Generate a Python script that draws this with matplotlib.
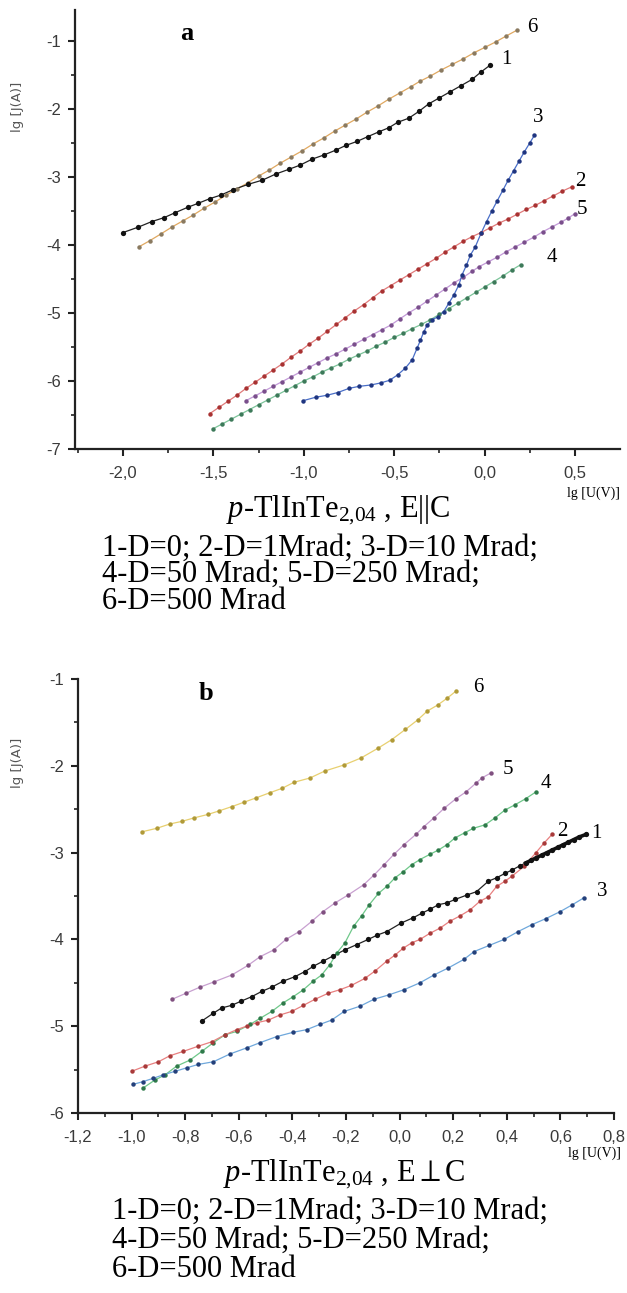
import numpy as np
import matplotlib
matplotlib.use("Agg")
import matplotlib.pyplot as plt
from matplotlib.ticker import MultipleLocator, FuncFormatter

plt.rcParams['mathtext.fontset'] = 'custom'
plt.rcParams['mathtext.rm'] = 'Liberation Serif'
plt.rcParams['mathtext.it'] = 'Liberation Serif:italic'
plt.rcParams['mathtext.default'] = 'regular'

# --- Panel a: E || C, lg J vs lg U ---
a1_x = [-2.0, -1.915, -1.842, -1.772, -1.713, -1.643, -1.584, -1.518, -1.459, -1.391, -1.306,
        -1.229, -1.155, -1.082, -1.021, -0.953, -0.889, -0.824, -0.768, -0.705, -0.646, -0.585,
        -0.530, -0.481, -0.420, -0.364, -0.31, -0.25, -0.19, -0.13, -0.07, -0.02, 0.03]
a1_y = [-3.82, -3.74, -3.66, -3.60, -3.53, -3.45, -3.39, -3.32, -3.27, -3.19, -3.11,
        -3.05, -2.96, -2.89, -2.83, -2.74, -2.68, -2.61, -2.54, -2.48, -2.41, -2.34,
        -2.28, -2.20, -2.14, -2.04, -1.93, -1.84, -1.75, -1.66, -1.57, -1.46, -1.36]

a2_x = [-1.52, -1.47, -1.42, -1.37, -1.32, -1.27, -1.22, -1.17, -1.12, -1.07, -1.02, -0.97,
        -0.92, -0.87, -0.82, -0.77, -0.72, -0.67, -0.62, -0.57, -0.52, -0.47, -0.42, -0.37,
        -0.32, -0.27, -0.22, -0.17, -0.12, -0.07, -0.02, 0.03, 0.08, 0.13, 0.18, 0.23, 0.28,
        0.33, 0.38, 0.43, 0.48]
a2_y = [-6.48, -6.39, -6.30, -6.21, -6.11, -6.02, -5.93, -5.84, -5.75, -5.65, -5.56, -5.46,
        -5.37, -5.27, -5.17, -5.07, -4.97, -4.88, -4.78, -4.68, -4.60, -4.52, -4.44, -4.36,
        -4.28, -4.20, -4.11, -4.03, -3.95, -3.88, -3.82, -3.75, -3.68, -3.62, -3.55, -3.48,
        -3.42, -3.35, -3.28, -3.21, -3.15]

a3_x = [-1.004, -0.935, -0.871, -0.812, -0.751, -0.696, -0.631, -0.576, -0.525, -0.481,
        -0.438, -0.401, -0.374, -0.355, -0.337, -0.318, -0.291, -0.260, -0.226, -0.199,
        -0.171, -0.143, -0.125, -0.101, -0.079, -0.052, -0.02, 0.01, 0.04, 0.07, 0.10,
        0.13, 0.16, 0.19, 0.22, 0.25, 0.275]
a3_y = [-6.29, -6.24, -6.21, -6.17, -6.11, -6.08, -6.06, -6.03, -5.99, -5.91,
        -5.81, -5.69, -5.52, -5.40, -5.28, -5.18, -5.10, -5.06, -4.98, -4.86,
        -4.74, -4.59, -4.44, -4.30, -4.15, -4.03, -3.83, -3.66, -3.50, -3.35, -3.20,
        -3.05, -2.91, -2.77, -2.63, -2.50, -2.39]

a4_x = [-1.50, -1.45, -1.40, -1.35, -1.30, -1.25, -1.20, -1.15, -1.10, -1.05, -1.00,
        -0.95, -0.90, -0.85, -0.80, -0.75, -0.70, -0.65, -0.60, -0.55,
        -0.50, -0.45, -0.40, -0.35, -0.30, -0.25, -0.20, -0.15, -0.10, -0.05,
        0.00, 0.05, 0.10, 0.15, 0.20]
a4_y = [-6.70, -6.63, -6.56, -6.49, -6.42, -6.35, -6.28, -6.21, -6.14, -6.07, -6.00,
        -5.94, -5.87, -5.81, -5.75, -5.68, -5.62, -5.56, -5.49, -5.43,
        -5.36, -5.30, -5.23, -5.17, -5.10, -5.02, -4.94, -4.86, -4.78, -4.70,
        -4.62, -4.54, -4.46, -4.37, -4.29]

a5_x = [-1.32, -1.27, -1.22, -1.17, -1.12, -1.07, -1.02, -0.97, -0.92, -0.87, -0.82, -0.77,
        -0.72, -0.67, -0.62, -0.57, -0.52, -0.47, -0.42, -0.37, -0.32, -0.27, -0.22, -0.17,
        -0.12, -0.07, -0.03, 0.02, 0.07, 0.12, 0.17, 0.22, 0.27, 0.32, 0.37, 0.42, 0.46, 0.50]
a5_y = [-6.29, -6.22, -6.15, -6.08, -6.01, -5.94, -5.87, -5.80, -5.73, -5.66, -5.60, -5.53,
        -5.46, -5.39, -5.32, -5.25, -5.18, -5.09, -5.00, -4.92, -4.83, -4.74, -4.65, -4.56,
        -4.48, -4.39, -4.32, -4.25, -4.18, -4.10, -4.03, -3.96, -3.89, -3.81, -3.74, -3.67,
        -3.61, -3.54]

a6_x = [-1.912, -1.852, -1.79, -1.73, -1.67, -1.61, -1.55, -1.49, -1.43, -1.37, -1.31,
        -1.25, -1.19, -1.13, -1.07, -1.01, -0.95, -0.89, -0.83, -0.77, -0.71, -0.65,
        -0.59, -0.53, -0.47, -0.41, -0.36, -0.30, -0.24, -0.18, -0.12, -0.06, 0.0,
        0.06, 0.12, 0.176]
a6_y = [-4.03, -3.94, -3.84, -3.74, -3.65, -3.56, -3.46, -3.37, -3.27, -3.18, -3.09,
        -2.99, -2.90, -2.80, -2.71, -2.62, -2.52, -2.43, -2.33, -2.24, -2.15, -2.05,
        -1.96, -1.86, -1.77, -1.68, -1.60, -1.52, -1.43, -1.35, -1.27, -1.18, -1.10,
        -1.02, -0.93, -0.85]

# --- Panel b: E perpendicular to C ---
b1_x = [-0.738, -0.695, -0.664, -0.627, -0.590, -0.552, -0.515, -0.477, -0.434, -0.391,
        -0.353, -0.322, -0.285, -0.248, -0.204, -0.160, -0.117, -0.083, -0.048, 0.007,
        0.051, 0.082, 0.115, 0.145, 0.176, 0.207, 0.250, 0.287, 0.331, 0.362, 0.393,
        0.42, 0.45, 0.47, 0.49, 0.51, 0.53, 0.55, 0.57, 0.59, 0.61, 0.63, 0.65, 0.67, 0.696]
b1_y = [-4.94, -4.85, -4.79, -4.76, -4.71, -4.66, -4.60, -4.55, -4.48, -4.43,
        -4.37, -4.31, -4.25, -4.19, -4.12, -4.06, -4.00, -3.95, -3.91, -3.81,
        -3.75, -3.70, -3.65, -3.60, -3.58, -3.54, -3.49, -3.45, -3.33, -3.29, -3.24,
        -3.20, -3.15, -3.12, -3.09, -3.06, -3.03, -3.00, -2.97, -2.94, -2.91, -2.88, -2.85,
        -2.82, -2.79]

b2_x = [-1.0, -0.950, -0.900, -0.857, -0.807, -0.751, -0.701, -0.652, -0.608, -0.571,
        -0.533, -0.490, -0.446, -0.403, -0.359, -0.316, -0.266, -0.223, -0.18, -0.13,
        -0.09, -0.048, -0.017, 0.014, 0.045, 0.076, 0.113, 0.151, 0.188, 0.225, 0.263,
        0.300, 0.331, 0.362, 0.393, 0.42, 0.464, 0.509, 0.539, 0.569]
b2_y = [-5.52, -5.46, -5.41, -5.34, -5.29, -5.23, -5.18, -5.10, -5.04, -5.00,
        -4.96, -4.93, -4.87, -4.83, -4.76, -4.69, -4.62, -4.58, -4.53, -4.45,
        -4.36, -4.25, -4.18, -4.10, -4.04, -4.00, -3.93, -3.87, -3.79, -3.73, -3.66,
        -3.56, -3.51, -3.39, -3.33, -3.27, -3.16, -3.00, -2.89, -2.79]

b3_x = [-0.994, -0.959, -0.919, -0.882, -0.838, -0.795, -0.751, -0.695, -0.633, -0.571,
        -0.521, -0.459, -0.397, -0.347, -0.298, -0.254, -0.207, -0.148, -0.096, -0.041,
        0.016, 0.076, 0.128, 0.181, 0.240, 0.278, 0.334, 0.390, 0.442, 0.494, 0.546,
        0.599, 0.645, 0.688]
b3_y = [-5.67, -5.64, -5.60, -5.56, -5.52, -5.48, -5.44, -5.41, -5.32, -5.25,
        -5.19, -5.12, -5.07, -5.04, -4.98, -4.93, -4.83, -4.77, -4.69, -4.64,
        -4.58, -4.50, -4.41, -4.33, -4.23, -4.14, -4.07, -4.00, -3.91, -3.83, -3.76,
        -3.68, -3.60, -3.52]

b4_x = [-0.956, -0.913, -0.875, -0.832, -0.782, -0.738, -0.695, -0.652, -0.608, -0.558,
        -0.521, -0.477, -0.434, -0.397, -0.359, -0.322, -0.291, -0.260, -0.235, -0.204,
        -0.172, -0.142, -0.113, -0.079, -0.048, -0.017, 0.014, 0.045, 0.076, 0.113, 0.145,
        0.176, 0.207, 0.244, 0.275, 0.319, 0.356, 0.393, 0.43, 0.47, 0.509]
b4_y = [-5.71, -5.62, -5.56, -5.46, -5.39, -5.29, -5.19, -5.10, -5.06, -4.98,
        -4.91, -4.83, -4.73, -4.66, -4.58, -4.48, -4.41, -4.29, -4.16, -4.04,
        -3.85, -3.73, -3.60, -3.47, -3.39, -3.29, -3.22, -3.14, -3.08, -3.02, -2.97,
        -2.91, -2.83, -2.77, -2.72, -2.68, -2.60, -2.51, -2.45, -2.38, -2.30]

b5_x = [-0.849, -0.797, -0.745, -0.693, -0.626, -0.566, -0.521, -0.469, -0.424, -0.375,
        -0.327, -0.286, -0.241, -0.193, -0.134, -0.096, -0.058, -0.021, 0.016, 0.061,
        0.091, 0.128, 0.166, 0.210, 0.248, 0.285, 0.307, 0.342]
b5_y = [-4.69, -4.62, -4.55, -4.49, -4.41, -4.30, -4.20, -4.12, -4.00, -3.91,
        -3.79, -3.68, -3.58, -3.49, -3.37, -3.26, -3.14, -3.02, -2.91, -2.79,
        -2.70, -2.60, -2.49, -2.38, -2.30, -2.20, -2.14, -2.08]

b6_x = [-0.961, -0.906, -0.857, -0.812, -0.767, -0.715, -0.674, -0.626, -0.581, -0.536,
        -0.484, -0.439, -0.394, -0.334, -0.279, -0.207, -0.144, -0.082, -0.030, 0.022,
        0.068, 0.103, 0.142, 0.178, 0.210]
b6_y = [-2.76, -2.72, -2.67, -2.64, -2.60, -2.56, -2.52, -2.47, -2.42, -2.37,
        -2.31, -2.26, -2.19, -2.14, -2.06, -1.99, -1.91, -1.80, -1.70, -1.58,
        -1.47, -1.37, -1.30, -1.22, -1.14]

# (line colour, dot colour) per curve number
style_a = {1: ("#222222", "#111111"), 2: ("#e07a7a", "#a83232"), 3: ("#4a6fc8", "#1f3580"),
           4: ("#7cc49a", "#3d7a5a"), 5: ("#c39ad8", "#7a4f8c"), 6: ("#e0a860", "#8a7a60")}
style_b = {1: ("#222222", "#111111"), 2: ("#e88080", "#a83a3a"), 3: ("#6fa8dc", "#24407a"),
           4: ("#6fc88a", "#2f7a4a"), 5: ("#c8a0d0", "#805080"), 6: ("#e8d070", "#b09a38")}

W, H = 627, 1293
fig = plt.figure(figsize=(W / 100, H / 100), dpi=100)


def px(x, y):
    return x / W, 1 - y / H


def comma(v, pos):
    return f"{v:.1f}".replace(".", ",")


def setup(ax, xlim, ylim, xmaj, xmin, xfmt):
    ax.set_xlim(*xlim)
    ax.set_ylim(*ylim)
    for s in ("top", "right"):
        ax.spines[s].set_visible(False)
    for s in ("left", "bottom"):
        ax.spines[s].set_linewidth(1.6)
        ax.spines[s].set_color("#222222")
    ax.xaxis.set_major_locator(MultipleLocator(xmaj))
    ax.xaxis.set_minor_locator(MultipleLocator(xmin))
    ax.yaxis.set_major_locator(MultipleLocator(1))
    ax.yaxis.set_minor_locator(MultipleLocator(0.5))
    ax.xaxis.set_major_formatter(FuncFormatter(xfmt))
    ax.yaxis.set_major_formatter(FuncFormatter(lambda v, p: f"{v:.0f}"))
    ax.tick_params(which="major", direction="out", length=5, width=1.5, color="#222222",
                   labelsize=12, labelcolor="#3a3a3a")
    ax.tick_params(axis="x", which="major", pad=7)
    ax.tick_params(axis="y", which="major", pad=5)
    ax.tick_params(which="minor", direction="out", length=2.8, width=1.2, color="#222222")
    for lab in ax.get_xticklabels() + ax.get_yticklabels():
        lab.set_family("Liberation Sans")


def curve(ax, x, y, colors, ms=3.2):
    ax.plot(x, y, "-", color=colors[0], lw=0.9, zorder=2)
    ax.plot(x, y, "o", color=colors[1], ms=ms, mew=0, zorder=3)


# panel a
ax_a = fig.add_axes([75 / W, 1 - 449 / H, 545 / W, 439 / H])
setup(ax_a, (-2.265, 0.748), (-7, -0.55), 0.5, 0.25, comma)
ax_a.set_yticks([-7, -6, -5, -4, -3, -2, -1])
curve(ax_a, a6_x, a6_y, style_a[6])
curve(ax_a, a1_x, a1_y, style_a[1], ms=3.8)
curve(ax_a, a2_x, a2_y, style_a[2])
curve(ax_a, a5_x, a5_y, style_a[5])
curve(ax_a, a4_x, a4_y, style_a[4])
curve(ax_a, a3_x, a3_y, style_a[3])

# panel b
ax_b = fig.add_axes([78 / W, 1 - 1113 / H, 536 / W, 434 / H])
setup(ax_b, (-1.2, 0.8), (-6, -1), 0.2, 0.1, comma)
curve(ax_b, b6_x, b6_y, style_b[6])
curve(ax_b, b5_x, b5_y, style_b[5])
curve(ax_b, b4_x, b4_y, style_b[4])
curve(ax_b, b2_x, b2_y, style_b[2])
curve(ax_b, b3_x, b3_y, style_b[3])
curve(ax_b, b1_x, b1_y, style_b[1], ms=3.8)
ax_b.plot(b1_x[-12:], b1_y[-12:], "-", color="#111111", lw=2.6, zorder=4)

serif = "Liberation Serif"

# curve numbers
for num, (x, y) in {6: (532, 27), 1: (506, 60), 3: (538, 118), 2: (580, 182),
                    5: (582, 210), 4: (552, 258)}.items():
    fig.text(*px(x, y), str(num), family=serif, fontsize=15, ha="center", va="center")
for num, (x, y) in {6: (478, 687), 5: (508, 770), 4: (546, 783), 2: (562, 832),
                    1: (596, 833), 3: (602, 892)}.items():
    fig.text(*px(x, y), str(num), family=serif, fontsize=15, ha="center", va="center")

fig.text(*px(187, 33), "a", family=serif, fontsize=19, fontweight="bold", ha="center", va="center")
fig.text(*px(206, 693), "b", family=serif, fontsize=19, fontweight="bold", ha="center", va="center")

# axis titles
fig.text(*px(18, 107), "lg [J(A)]", family="DejaVu Sans", fontsize=9.5, color="#555555",
         rotation=90, ha="center", va="center")
fig.text(*px(18, 763), "lg [J(A)]", family="DejaVu Sans", fontsize=9.5, color="#555555",
         rotation=90, ha="center", va="center")
fig.text(*px(593, 493), "lg [U(V)]", family=serif, fontsize=10, ha="center", va="center")
fig.text(*px(594, 1153), "lg [U(V)]", family=serif, fontsize=10, ha="center", va="center")

# captions: sample and field direction, then the dose list as one block
# (a multi-line text with va="baseline" sits on the baseline of its last line)
cap_size = 22
doses = "\n".join(["1-D=0; 2-D=1Mrad; 3-D=10 Mrad;", "4-D=50 Mrad; 5-D=250 Mrad;",
                   "6-D=500 Mrad"])

fig.text(*px(338, 517), r"$\mathit{p}$-TlInTe$_{2{,}04}$ , E||C", family=serif,
         fontsize=cap_size, ha="center", va="baseline")
fig.text(*px(102, 609), doses, family=serif, fontsize=cap_size, ha="left",
         va="baseline", linespacing=0.9)

fig.text(*px(344, 1181), r"$\mathit{p}$-TlInTe$_{2{,}04}$ , E$\perp$C", family=serif,
         fontsize=cap_size, ha="center", va="baseline")
fig.text(*px(112, 1277), doses, family=serif, fontsize=cap_size, ha="left",
         va="baseline", linespacing=1.0)

fig.savefig("out.png", dpi=100)
